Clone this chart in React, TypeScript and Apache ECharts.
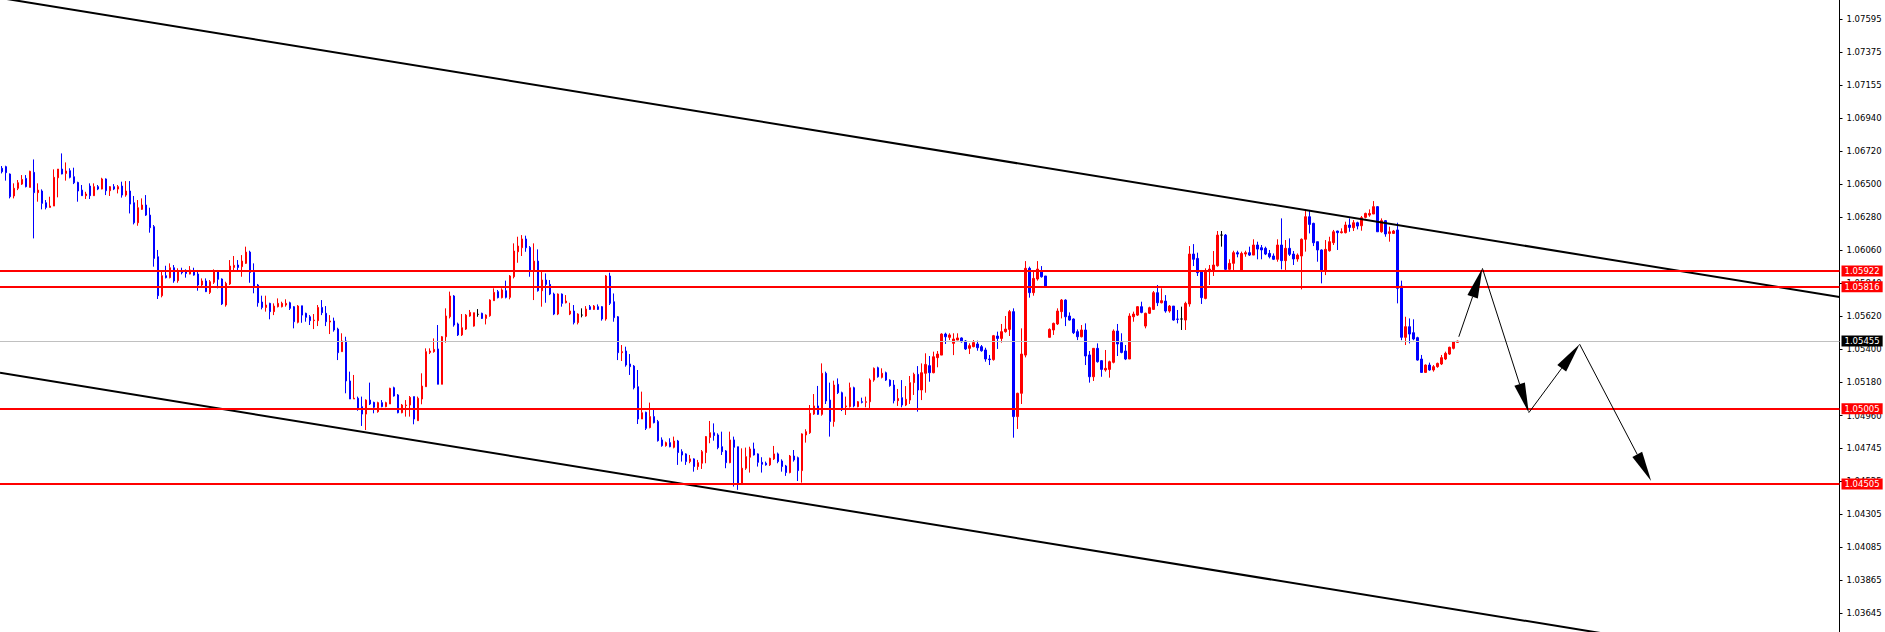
import { useEffect, useRef } from "react";
import * as echarts from "echarts";

// number of bar slots on the time axis (candles + empty right margin)
const SLOTS = 460;

// [open, close, low, high]
const candles: [number, number, number, number][] = [
  [1.06604, 1.06581, 1.06570, 1.06619], [1.06615, 1.06575, 1.06522, 1.06621], [1.06566, 1.06415, 1.06404, 1.06570],
  [1.06420, 1.06471, 1.06404, 1.06504], [1.06471, 1.06508, 1.06459, 1.06526], [1.06499, 1.06530, 1.06493, 1.06559],
  [1.06537, 1.06482, 1.06477, 1.06559], [1.06477, 1.06584, 1.06477, 1.06588], [1.06577, 1.06442, 1.06138, 1.06663],
  [1.06442, 1.06459, 1.06382, 1.06504], [1.06453, 1.06371, 1.06331, 1.06464], [1.06375, 1.06344, 1.06331, 1.06393],
  [1.06344, 1.06353, 1.06344, 1.06415], [1.06353, 1.06544, 1.06353, 1.06597], [1.06541, 1.06599, 1.06411, 1.06599],
  [1.06599, 1.06566, 1.06564, 1.06703], [1.06570, 1.06586, 1.06522, 1.06643], [1.06588, 1.06544, 1.06537, 1.06604],
  [1.06548, 1.06508, 1.06499, 1.06608], [1.06510, 1.06453, 1.06382, 1.06515], [1.06459, 1.06422, 1.06422, 1.06493],
  [1.06422, 1.06433, 1.06400, 1.06448], [1.06486, 1.06422, 1.06400, 1.06504], [1.06422, 1.06482, 1.06420, 1.06504],
  [1.06482, 1.06466, 1.06459, 1.06493], [1.06466, 1.06533, 1.06464, 1.06541], [1.06533, 1.06455, 1.06426, 1.06537],
  [1.06455, 1.06482, 1.06420, 1.06486], [1.06482, 1.06466, 1.06459, 1.06499], [1.06466, 1.06482, 1.06437, 1.06493],
  [1.06486, 1.06426, 1.06409, 1.06515], [1.06426, 1.06453, 1.06415, 1.06519], [1.06453, 1.06366, 1.06304, 1.06519],
  [1.06375, 1.06242, 1.06231, 1.06420], [1.06242, 1.06342, 1.06222, 1.06393], [1.06331, 1.06360, 1.06327, 1.06404],
  [1.06360, 1.06293, 1.06287, 1.06426], [1.06293, 1.06209, 1.06176, 1.06342], [1.06216, 1.06005, 1.05950, 1.06227],
  [1.06016, 1.05757, 1.05735, 1.06061], [1.05757, 1.05890, 1.05746, 1.05917], [1.05890, 1.05877, 1.05872, 1.05956],
  [1.05877, 1.05943, 1.05872, 1.05972], [1.05943, 1.05855, 1.05843, 1.05961], [1.05857, 1.05917, 1.05843, 1.05939],
  [1.05917, 1.05910, 1.05899, 1.05943], [1.05917, 1.05905, 1.05877, 1.05932], [1.05901, 1.05928, 1.05899, 1.05954],
  [1.05917, 1.05894, 1.05890, 1.05943], [1.05901, 1.05828, 1.05790, 1.05928], [1.05828, 1.05855, 1.05817, 1.05872],
  [1.05855, 1.05784, 1.05781, 1.05872], [1.05779, 1.05850, 1.05768, 1.05861], [1.05846, 1.05921, 1.05835, 1.05932],
  [1.05921, 1.05866, 1.05806, 1.05928], [1.05868, 1.05702, 1.05695, 1.05872], [1.05695, 1.05839, 1.05684, 1.05850],
  [1.05835, 1.05954, 1.05828, 1.05994], [1.05945, 1.05959, 1.05928, 1.06021], [1.05961, 1.05945, 1.05928, 1.05994],
  [1.05950, 1.05987, 1.05883, 1.06027], [1.05972, 1.06047, 1.05968, 1.06083], [1.06047, 1.05912, 1.05843, 1.06056],
  [1.05912, 1.05821, 1.05773, 1.05972], [1.05828, 1.05710, 1.05684, 1.05835], [1.05715, 1.05679, 1.05666, 1.05757],
  [1.05679, 1.05695, 1.05651, 1.05757], [1.05706, 1.05651, 1.05600, 1.05710], [1.05651, 1.05688, 1.05628, 1.05706],
  [1.05684, 1.05706, 1.05679, 1.05739], [1.05684, 1.05706, 1.05679, 1.05717], [1.05695, 1.05706, 1.05684, 1.05733],
  [1.05710, 1.05673, 1.05662, 1.05717], [1.05684, 1.05584, 1.05540, 1.05688], [1.05580, 1.05688, 1.05573, 1.05695],
  [1.05690, 1.05628, 1.05577, 1.05690], [1.05640, 1.05613, 1.05584, 1.05644], [1.05617, 1.05591, 1.05562, 1.05628],
  [1.05591, 1.05595, 1.05535, 1.05635], [1.05591, 1.05679, 1.05555, 1.05695], [1.05679, 1.05644, 1.05628, 1.05728],
  [1.05640, 1.05584, 1.05555, 1.05688], [1.05582, 1.05589, 1.05502, 1.05628], [1.05589, 1.05529, 1.05518, 1.05611],
  [1.05535, 1.05378, 1.05329, 1.05544], [1.05385, 1.05456, 1.05385, 1.05507], [1.05456, 1.05190, 1.05108, 1.05484],
  [1.05190, 1.05070, 1.05070, 1.05252], [1.05070, 1.05075, 1.05070, 1.05230], [1.05075, 1.05004, 1.04992, 1.05086],
  [1.05019, 1.04970, 1.04891, 1.05086], [1.04970, 1.05063, 1.04864, 1.05068], [1.05063, 1.05037, 1.05030, 1.05179],
  [1.05048, 1.05015, 1.04975, 1.05052], [1.04986, 1.05046, 1.04979, 1.05052], [1.05046, 1.05019, 1.05015, 1.05063],
  [1.05019, 1.05046, 1.05015, 1.05052], [1.05037, 1.05141, 1.05037, 1.05145], [1.05145, 1.05090, 1.05086, 1.05152],
  [1.05097, 1.04979, 1.04975, 1.05103], [1.04979, 1.05030, 1.04975, 1.05037], [1.05026, 1.05030, 1.04953, 1.05063],
  [1.05030, 1.05081, 1.04953, 1.05090], [1.05086, 1.04937, 1.04902, 1.05086], [1.04926, 1.05075, 1.04926, 1.05086],
  [1.05070, 1.05156, 1.05035, 1.05241], [1.05152, 1.05385, 1.05152, 1.05407], [1.05380, 1.05389, 1.05369, 1.05407],
  [1.05385, 1.05400, 1.05378, 1.05473], [1.05403, 1.05168, 1.05168, 1.05562], [1.05168, 1.05484, 1.05168, 1.05489],
  [1.05484, 1.05622, 1.05445, 1.05673], [1.05617, 1.05755, 1.05606, 1.05784], [1.05755, 1.05562, 1.05551, 1.05761],
  [1.05569, 1.05496, 1.05489, 1.05578], [1.05496, 1.05544, 1.05489, 1.05635], [1.05535, 1.05628, 1.05529, 1.05635],
  [1.05622, 1.05646, 1.05617, 1.05662], [1.05555, 1.05644, 1.05551, 1.05644], [1.05633, 1.05633, 1.05617, 1.05668],
  [1.05640, 1.05606, 1.05602, 1.05644], [1.05606, 1.05628, 1.05566, 1.05633], [1.05624, 1.05728, 1.05617, 1.05733],
  [1.05724, 1.05779, 1.05724, 1.05806], [1.05784, 1.05744, 1.05739, 1.05795], [1.05744, 1.05795, 1.05739, 1.05806],
  [1.05790, 1.05746, 1.05739, 1.05857], [1.05746, 1.05888, 1.05733, 1.05894], [1.05883, 1.06054, 1.05872, 1.06105],
  [1.06049, 1.06087, 1.05976, 1.06149], [1.06076, 1.06134, 1.06021, 1.06160], [1.06134, 1.06076, 1.06049, 1.06156],
  [1.06078, 1.05928, 1.05883, 1.06087], [1.05928, 1.05987, 1.05728, 1.06105], [1.05987, 1.05790, 1.05784, 1.06065],
  [1.05790, 1.05861, 1.05684, 1.05923], [1.05861, 1.05832, 1.05710, 1.05905], [1.05832, 1.05768, 1.05761, 1.05861],
  [1.05768, 1.05635, 1.05628, 1.05777], [1.05635, 1.05768, 1.05628, 1.05772], [1.05768, 1.05706, 1.05684, 1.05772],
  [1.05710, 1.05721, 1.05706, 1.05761], [1.05635, 1.05655, 1.05628, 1.05710], [1.05655, 1.05578, 1.05566, 1.05695],
  [1.05578, 1.05635, 1.05566, 1.05640], [1.05628, 1.05628, 1.05613, 1.05673], [1.05622, 1.05668, 1.05617, 1.05688],
  [1.05684, 1.05666, 1.05662, 1.05695], [1.05666, 1.05688, 1.05662, 1.05695], [1.05684, 1.05666, 1.05662, 1.05699],
  [1.05684, 1.05602, 1.05591, 1.05688], [1.05602, 1.05888, 1.05591, 1.05894], [1.05888, 1.05706, 1.05695, 1.05910],
  [1.05717, 1.05611, 1.05584, 1.05772], [1.05617, 1.05378, 1.05329, 1.05622], [1.05378, 1.05385, 1.05323, 1.05429],
  [1.05389, 1.05296, 1.05285, 1.05418], [1.05303, 1.05285, 1.05230, 1.05369], [1.05289, 1.05145, 1.05134, 1.05296],
  [1.05152, 1.04937, 1.04904, 1.05263], [1.04937, 1.04979, 1.04937, 1.05119], [1.04982, 1.04875, 1.04864, 1.04986],
  [1.04880, 1.04953, 1.04875, 1.05046], [1.04953, 1.04913, 1.04908, 1.05001], [1.04920, 1.04793, 1.04787, 1.04931],
  [1.04798, 1.04760, 1.04753, 1.04815], [1.04760, 1.04780, 1.04753, 1.04787], [1.04780, 1.04753, 1.04749, 1.04809],
  [1.04749, 1.04791, 1.04742, 1.04820], [1.04791, 1.04714, 1.04632, 1.04798], [1.04720, 1.04698, 1.04654, 1.04736],
  [1.04705, 1.04654, 1.04632, 1.04709], [1.04654, 1.04672, 1.04643, 1.04698], [1.04672, 1.04621, 1.04587, 1.04676],
  [1.04621, 1.04647, 1.04599, 1.04665], [1.04643, 1.04720, 1.04605, 1.04731], [1.04714, 1.04820, 1.04643, 1.04824],
  [1.04815, 1.04846, 1.04776, 1.04924], [1.04846, 1.04827, 1.04793, 1.04908], [1.04831, 1.04747, 1.04736, 1.04842],
  [1.04753, 1.04720, 1.04698, 1.04853], [1.04725, 1.04647, 1.04610, 1.04731], [1.04647, 1.04798, 1.04643, 1.04853],
  [1.04798, 1.04749, 1.04488, 1.04820], [1.04753, 1.04510, 1.04466, 1.04753], [1.04510, 1.04610, 1.04499, 1.04742],
  [1.04610, 1.04687, 1.04599, 1.04747], [1.04683, 1.04738, 1.04581, 1.04753], [1.04738, 1.04698, 1.04694, 1.04780],
  [1.04705, 1.04649, 1.04621, 1.04709], [1.04649, 1.04636, 1.04581, 1.04683], [1.04643, 1.04632, 1.04627, 1.04654],
  [1.04632, 1.04676, 1.04625, 1.04680], [1.04672, 1.04705, 1.04665, 1.04758], [1.04705, 1.04654, 1.04643, 1.04714],
  [1.04658, 1.04621, 1.04587, 1.04669], [1.04625, 1.04581, 1.04559, 1.04632], [1.04581, 1.04691, 1.04576, 1.04698],
  [1.04691, 1.04665, 1.04654, 1.04731], [1.04680, 1.04594, 1.04525, 1.04687], [1.04594, 1.04838, 1.04514, 1.04842],
  [1.04831, 1.04853, 1.04780, 1.04869], [1.04846, 1.04975, 1.04838, 1.05030], [1.04970, 1.05024, 1.04964, 1.05103],
  [1.05024, 1.04968, 1.04964, 1.05157], [1.04968, 1.05241, 1.04959, 1.05307], [1.05241, 1.05057, 1.05037, 1.05252],
  [1.05063, 1.04920, 1.04820, 1.05179], [1.04920, 1.05163, 1.04886, 1.05192], [1.05168, 1.05112, 1.05103, 1.05207],
  [1.05112, 1.05008, 1.04990, 1.05119], [1.05019, 1.05024, 1.04964, 1.05086], [1.05019, 1.05145, 1.05013, 1.05179],
  [1.05145, 1.05024, 1.05015, 1.05152], [1.05019, 1.05052, 1.05015, 1.05057], [1.05052, 1.05048, 1.05041, 1.05079],
  [1.05048, 1.05052, 1.05015, 1.05086], [1.05052, 1.05196, 1.05008, 1.05207], [1.05196, 1.05274, 1.05185, 1.05280],
  [1.05278, 1.05218, 1.05212, 1.05285], [1.05214, 1.05241, 1.05207, 1.05274], [1.05245, 1.05196, 1.05190, 1.05252],
  [1.05196, 1.05159, 1.05152, 1.05201], [1.05163, 1.05059, 1.05041, 1.05196], [1.05059, 1.05074, 1.05024, 1.05137],
  [1.05079, 1.05030, 1.05015, 1.05196], [1.05030, 1.05068, 1.05023, 1.05156], [1.05063, 1.05179, 1.05037, 1.05223],
  [1.05179, 1.05234, 1.05097, 1.05245], [1.05234, 1.05130, 1.04986, 1.05289], [1.05130, 1.05245, 1.05063, 1.05307],
  [1.05241, 1.05300, 1.05112, 1.05374], [1.05292, 1.05245, 1.05185, 1.05356], [1.05245, 1.05351, 1.05241, 1.05385],
  [1.05345, 1.05369, 1.05281, 1.05389], [1.05362, 1.05502, 1.05362, 1.05507], [1.05502, 1.05484, 1.05436, 1.05511],
  [1.05480, 1.05496, 1.05462, 1.05507], [1.05440, 1.05469, 1.05362, 1.05507], [1.05462, 1.05476, 1.05462, 1.05507],
  [1.05476, 1.05451, 1.05445, 1.05480], [1.05456, 1.05403, 1.05396, 1.05462], [1.05407, 1.05425, 1.05369, 1.05440],
  [1.05418, 1.05445, 1.05414, 1.05462], [1.05436, 1.05411, 1.05391, 1.05458], [1.05418, 1.05391, 1.05385, 1.05429],
  [1.05396, 1.05336, 1.05318, 1.05411], [1.05336, 1.05332, 1.05296, 1.05363], [1.05332, 1.05491, 1.05325, 1.05496],
  [1.05489, 1.05473, 1.05403, 1.05518], [1.05473, 1.05518, 1.05445, 1.05569], [1.05518, 1.05535, 1.05511, 1.05622],
  [1.05533, 1.05651, 1.05489, 1.05662], [1.05651, 1.04953, 1.04813, 1.05673], [1.04953, 1.05108, 1.04871, 1.05112],
  [1.05108, 1.05369, 1.05037, 1.05540], [1.05362, 1.05939, 1.05347, 1.05987], [1.05939, 1.05777, 1.05744, 1.05950],
  [1.05777, 1.05872, 1.05757, 1.05917], [1.05868, 1.05934, 1.05857, 1.05987], [1.05917, 1.05883, 1.05877, 1.05954],
  [1.05888, 1.05821, 1.05817, 1.05888], [1.05480, 1.05533, 1.05478, 1.05540], [1.05529, 1.05573, 1.05496, 1.05578],
  [1.05569, 1.05655, 1.05562, 1.05673], [1.05651, 1.05728, 1.05606, 1.05735], [1.05728, 1.05617, 1.05555, 1.05733],
  [1.05622, 1.05595, 1.05591, 1.05646], [1.05602, 1.05511, 1.05502, 1.05606], [1.05518, 1.05484, 1.05462, 1.05533],
  [1.05484, 1.05529, 1.05480, 1.05562], [1.05529, 1.05356, 1.05296, 1.05573], [1.05363, 1.05218, 1.05179, 1.05389],
  [1.05218, 1.05407, 1.05190, 1.05407], [1.05407, 1.05318, 1.05312, 1.05440], [1.05325, 1.05267, 1.05218, 1.05329],
  [1.05263, 1.05274, 1.05252, 1.05396], [1.05267, 1.05318, 1.05212, 1.05325], [1.05314, 1.05522, 1.05307, 1.05533],
  [1.05522, 1.05436, 1.05356, 1.05569], [1.05445, 1.05380, 1.05374, 1.05507], [1.05389, 1.05336, 1.05329, 1.05429],
  [1.05336, 1.05622, 1.05336, 1.05640], [1.05617, 1.05635, 1.05584, 1.05651], [1.05628, 1.05684, 1.05622, 1.05688],
  [1.05684, 1.05646, 1.05640, 1.05717], [1.05555, 1.05640, 1.05540, 1.05644], [1.05640, 1.05677, 1.05635, 1.05684],
  [1.05666, 1.05777, 1.05662, 1.05788], [1.05777, 1.05710, 1.05688, 1.05828], [1.05710, 1.05724, 1.05706, 1.05806],
  [1.05721, 1.05655, 1.05644, 1.05761], [1.05655, 1.05688, 1.05644, 1.05695], [1.05688, 1.05595, 1.05591, 1.05688],
  [1.05602, 1.05600, 1.05573, 1.05662], [1.05602, 1.05602, 1.05529, 1.05684], [1.05595, 1.05706, 1.05529, 1.05717],
  [1.05702, 1.06034, 1.05684, 1.06087], [1.06034, 1.05999, 1.05954, 1.06100], [1.06005, 1.05910, 1.05888, 1.06043],
  [1.05921, 1.05744, 1.05702, 1.05928], [1.05739, 1.05921, 1.05733, 1.05939], [1.05917, 1.05934, 1.05828, 1.05961],
  [1.05928, 1.05961, 1.05888, 1.06054], [1.05956, 1.06160, 1.05950, 1.06187], [1.06160, 1.06160, 1.06083, 1.06187],
  [1.06160, 1.05932, 1.05928, 1.06167], [1.05932, 1.05972, 1.05917, 1.05999], [1.05972, 1.06043, 1.05928, 1.06056],
  [1.06043, 1.06034, 1.06012, 1.06056], [1.05928, 1.06038, 1.05928, 1.06050], [1.06034, 1.06043, 1.06016, 1.06056],
  [1.06043, 1.06027, 1.06021, 1.06083], [1.06027, 1.06094, 1.06027, 1.06132], [1.06094, 1.06067, 1.05999, 1.06116],
  [1.06076, 1.06061, 1.05999, 1.06094], [1.06072, 1.06034, 1.06027, 1.06083], [1.06038, 1.06016, 1.06005, 1.06061],
  [1.06021, 1.05999, 1.05994, 1.06038], [1.05999, 1.06094, 1.05983, 1.06132], [1.06094, 1.05990, 1.05932, 1.06271],
  [1.05990, 1.06072, 1.05928, 1.06127], [1.06072, 1.06032, 1.06021, 1.06138], [1.06034, 1.06001, 1.05961, 1.06054],
  [1.06001, 1.06027, 1.05983, 1.06038], [1.06021, 1.06132, 1.05799, 1.06138], [1.06132, 1.06282, 1.06050, 1.06331],
  [1.06282, 1.06231, 1.06171, 1.06327], [1.06238, 1.06109, 1.06087, 1.06242], [1.06116, 1.06061, 1.05983, 1.06116],
  [1.06061, 1.05928, 1.05839, 1.06065], [1.05928, 1.06065, 1.05894, 1.06127], [1.06056, 1.06116, 1.06050, 1.06149],
  [1.06109, 1.06182, 1.06094, 1.06194], [1.06187, 1.06176, 1.06061, 1.06189], [1.06176, 1.06182, 1.06171, 1.06205],
  [1.06176, 1.06227, 1.06171, 1.06249], [1.06227, 1.06211, 1.06182, 1.06271], [1.06209, 1.06242, 1.06187, 1.06260],
  [1.06242, 1.06220, 1.06198, 1.06249], [1.06222, 1.06276, 1.06189, 1.06287], [1.06278, 1.06304, 1.06271, 1.06309],
  [1.06293, 1.06304, 1.06282, 1.06331], [1.06300, 1.06349, 1.06300, 1.06386], [1.06349, 1.06182, 1.06182, 1.06353],
  [1.06182, 1.06256, 1.06176, 1.06271], [1.06256, 1.06167, 1.06149, 1.06260], [1.06171, 1.06182, 1.06116, 1.06216],
  [1.06171, 1.06187, 1.06167, 1.06194], [1.06194, 1.05806, 1.05706, 1.06242], [1.05821, 1.05480, 1.05461, 1.05857],
  [1.05480, 1.05551, 1.05429, 1.05617], [1.05551, 1.05502, 1.05440, 1.05606], [1.05511, 1.05469, 1.05461, 1.05600],
  [1.05478, 1.05329, 1.05325, 1.05484], [1.05336, 1.05247, 1.05245, 1.05363], [1.05247, 1.05296, 1.05245, 1.05300],
  [1.05296, 1.05263, 1.05258, 1.05312], [1.05263, 1.05285, 1.05252, 1.05296], [1.05285, 1.05307, 1.05278, 1.05312],
  [1.05303, 1.05345, 1.05296, 1.05363], [1.05336, 1.05374, 1.05329, 1.05385], [1.05369, 1.05414, 1.05363, 1.05418],
  [1.05407, 1.05451, 1.05400, 1.05456], [1.05447, 1.05455, 1.05445, 1.05458],
];

// price scale
const priceMin = 1.03521;
const priceMax = 1.07723;
const priceTicks = [
  1.07595, 1.07375, 1.07155, 1.0694, 1.0672, 1.065, 1.0628, 1.0606, 1.0584, 1.0562,
  1.054, 1.0518, 1.0496, 1.04745, 1.04525, 1.04305, 1.04085, 1.03865, 1.03645,
];

// horizontal levels
const redLevels = [1.05922, 1.05816, 1.05005, 1.04505];
const lastPrice = 1.05455;

// channel lines: [bar index, price]
const upperChannel = [[-0.5, 1.07737], [459.5, 1.05749]];
const lowerChannel = [[-0.5, 1.05244], [459.5, 1.03256]];

// forecast zig-zag: [bar index, price]
const forecastPath = [
  [364.3, 1.05484],
  [370.2, 1.05939],
  [381.8, 1.04979],
  [394.5, 1.05435],
  [412.4, 1.04525],
];

const FONT = "DejaVu Sans";

export default function App() {
  const ref = useRef<HTMLDivElement>(null);

  useEffect(() => {
    if (!ref.current) return;
    const chart = echarts.init(ref.current, undefined, { renderer: "svg" });

    const slots = Array.from({ length: SLOTS }, (_, i) => String(i));
    const segments = forecastPath.slice(1).map((p, k) => [
      forecastPath[k][0], forecastPath[k][1], p[0], p[1],
    ]);

    const levelLabel = (bg: string) => ({
      show: true,
      position: "end",
      distance: 2,
      formatter: (p: any) => Number(p.value).toFixed(5),
      color: "#ffffff",
      backgroundColor: bg,
      padding: [1, 3, 0, 3],
      fontSize: 8.5,
      lineHeight: 10,
      fontFamily: FONT,
    });

    chart.setOption({
      animation: false,
      backgroundColor: "#ffffff",
      grid: { left: -0.5, right: 45.5, top: 0, bottom: 0, containLabel: false },
      xAxis: [
        { type: "category", data: slots, show: false, boundaryGap: true },
        { type: "value", min: -0.5, max: SLOTS - 0.5, show: false },
      ],
      yAxis: {
        type: "value",
        position: "right",
        min: priceMin,
        max: priceMax,
        axisLine: { show: true, onZero: false, lineStyle: { color: "#000000", width: 1 } },
        axisTick: {
          show: true,
          inside: false,
          length: 3,
          customValues: priceTicks,
          lineStyle: { color: "#000000" },
        },
        axisLabel: {
          customValues: priceTicks,
          formatter: (v: number) => v.toFixed(5),
          margin: 7,
          color: "#000000",
          fontSize: 8.5,
          fontFamily: FONT,
        },
        splitLine: { show: false },
      },
      series: [
        {
          type: "candlestick",
          xAxisIndex: 0,
          yAxisIndex: 0,
          data: candles,
          barWidth: 2,
          itemStyle: {
            color: "#ff0000",
            color0: "#0000ff",
            borderColor: "#ff0000",
            borderColor0: "#0000ff",
            borderColorDoji: "#000000",
            borderWidth: 1,
          },
          z: 2,
          markLine: {
            silent: true,
            symbol: "none",
            precision: 5,
            z: 5,
            data: [
              {
                yAxis: lastPrice,
                lineStyle: { color: "#c0c0c0", width: 1, type: "solid" },
                label: levelLabel("#000000"),
              },
              ...redLevels.map((v) => ({
                yAxis: v,
                lineStyle: { color: "#ff0000", width: 2, type: "solid" },
                label: levelLabel("#ff0000"),
              })),
            ],
          },
        },
        {
          type: "line",
          xAxisIndex: 1,
          yAxisIndex: 0,
          data: upperChannel,
          symbol: "none",
          silent: true,
          lineStyle: { color: "#000000", width: 2 },
          z: 4,
        },
        {
          type: "line",
          xAxisIndex: 1,
          yAxisIndex: 0,
          data: lowerChannel,
          symbol: "none",
          silent: true,
          lineStyle: { color: "#000000", width: 2 },
          z: 4,
        },
        {
          type: "custom",
          xAxisIndex: 1,
          yAxisIndex: 0,
          data: segments,
          silent: true,
          z: 6,
          encode: { x: [0, 2], y: [1, 3] },
          renderItem: (_params: any, api: any) => {
            const p1 = api.coord([api.value(0), api.value(1)]);
            const p2 = api.coord([api.value(2), api.value(3)]);
            const dx = p2[0] - p1[0];
            const dy = p2[1] - p1[1];
            const len = Math.hypot(dx, dy) || 1;
            const ux = dx / len;
            const uy = dy / len;
            const L = 30;
            const W = 5.5;
            const bx = p2[0] - ux * L;
            const by = p2[1] - uy * L;
            return {
              type: "group",
              children: [
                {
                  type: "line",
                  shape: { x1: p1[0], y1: p1[1], x2: bx, y2: by },
                  style: { stroke: "#000000", lineWidth: 1 },
                },
                {
                  type: "polygon",
                  shape: {
                    points: [
                      [p2[0], p2[1]],
                      [bx - uy * W, by + ux * W],
                      [bx + uy * W, by - ux * W],
                    ],
                  },
                  style: { fill: "#000000" },
                },
              ],
            };
          },
        },
      ],
    });

    return () => chart.dispose();
  }, []);

  return (
    <div
      ref={ref}
      style={{ position: "fixed", left: 0, top: 0, width: 1885, height: 632, background: "#ffffff" }}
    />
  );
}
